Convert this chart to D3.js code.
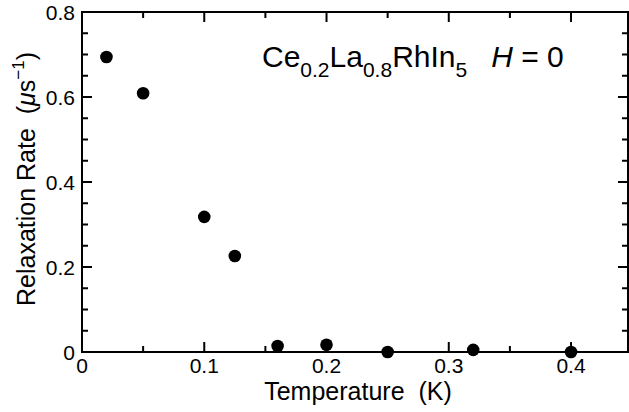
<!DOCTYPE html>
<html>
<head>
<meta charset="utf-8">
<script src="https://cdn.jsdelivr.net/npm/d3@7"></script>
<style>
  html, body { margin: 0; padding: 0; background: #fff; }
  svg { display: block; font-family: "Liberation Sans", Arial, Helvetica, sans-serif; }
</style>
</head>
<body>
<svg id="chart" width="629" height="412"></svg>
<script>
// Muon spin relaxation rate vs temperature, Ce0.2La0.8RhIn5 at zero field
const temperature = [0.02, 0.05, 0.10, 0.125, 0.16, 0.20, 0.25, 0.32, 0.40];
const relaxRate   = [0.694, 0.609, 0.318, 0.226, 0.014, 0.017, 0.0, 0.005, 0.0];

const xMajorTicks = [0, 0.1, 0.2, 0.3, 0.4];
const xTickLabels = ["0", "0.1", "0.2", "0.3", "0.4"];
const yMajorTicks = [0, 0.2, 0.4, 0.6, 0.8];
const yTickLabels = ["0", "0.2", "0.4", "0.6", "0.8"];

const svg = d3.select("#chart");
const pLeft = 82, pRight = 628, pTop = 12, pBottom = 352;

const x = d3.scaleLinear().domain([0, 0.4466]).range([pLeft, pRight]);
const y = d3.scaleLinear().domain([0, 0.8]).range([pBottom, pTop]);

const xMinor = d3.range(0, 0.4466, 0.05).filter(v => !xMajorTicks.some(m => Math.abs(m - v) < 1e-9));
const yMinor = d3.range(0, 0.8001, 0.05).filter(v => !yMajorTicks.some(m => Math.abs(m - v) < 1e-9));

const majLen = 10, minLen = 6;
const g = svg.append("g").attr("stroke", "#000").attr("stroke-width", 2);

// frame
g.append("rect").attr("x", pLeft).attr("y", pTop)
  .attr("width", pRight - pLeft).attr("height", pBottom - pTop).attr("fill", "none");

// x ticks, bottom and top, pointing inward
xMajorTicks.concat(xMinor).forEach(v => {
  const len = xMajorTicks.includes(v) ? majLen : minLen;
  g.append("line").attr("x1", x(v)).attr("x2", x(v)).attr("y1", pBottom).attr("y2", pBottom - len);
  g.append("line").attr("x1", x(v)).attr("x2", x(v)).attr("y1", pTop).attr("y2", pTop + len);
});
// y ticks, left and right, pointing inward
yMajorTicks.concat(yMinor).forEach(v => {
  const len = yMajorTicks.includes(v) ? majLen : minLen;
  g.append("line").attr("y1", y(v)).attr("y2", y(v)).attr("x1", pLeft).attr("x2", pLeft + len);
  g.append("line").attr("y1", y(v)).attr("y2", y(v)).attr("x1", pRight).attr("x2", pRight - len);
});

// tick labels
svg.append("g").selectAll("text").data(xMajorTicks).join("text")
  .attr("x", d => x(d)).attr("y", 373)
  .attr("text-anchor", "middle").attr("font-size", 21)
  .text((d, i) => xTickLabels[i]);

svg.append("g").selectAll("text").data(yMajorTicks).join("text")
  .attr("x", 75).attr("y", d => y(d) + 8)
  .attr("text-anchor", "end").attr("font-size", 21)
  .text((d, i) => yTickLabels[i]);

// axis titles
svg.append("text").attr("x", (pLeft + pRight) / 2 + 3).attr("y", 400)
  .attr("text-anchor", "middle").attr("font-size", 25)
  .attr("xml:space", "preserve")
  .text("Temperature  (K)");

const yl = svg.append("text")
  .attr("transform", `translate(35, ${(pTop + pBottom) / 2 - 3}) rotate(-90)`)
  .attr("text-anchor", "middle").attr("font-size", 25)
  .attr("xml:space", "preserve");
yl.append("tspan").text("Relaxation Rate  (");
yl.append("tspan").attr("font-style", "italic").text("μ");
yl.append("tspan").text("s");
yl.append("tspan").attr("font-size", 17).attr("dy", -11).text("−1");
yl.append("tspan").attr("dy", 11).text(")");

// compound label
const t = svg.append("text").attr("x", 262).attr("y", 67).attr("font-size", 30);
t.append("tspan").text("Ce");
t.append("tspan").attr("font-size", 21).attr("dy", 10).text("0.2");
t.append("tspan").attr("dy", -10).text("La");
t.append("tspan").attr("font-size", 21).attr("dy", 10).text("0.8");
t.append("tspan").attr("dy", -10).text("RhIn");
t.append("tspan").attr("font-size", 21).attr("dy", 10).text("5");
t.append("tspan").attr("dy", -10).attr("dx", 24).attr("font-style", "italic").text("H");
t.append("tspan").attr("xml:space", "preserve").text(" = 0");

// data points
svg.append("g").selectAll("circle").data(temperature).join("circle")
  .attr("cx", d => x(d)).attr("cy", (d, i) => y(relaxRate[i]))
  .attr("r", 6.3).attr("fill", "#000");
</script>
</body>
</html>
